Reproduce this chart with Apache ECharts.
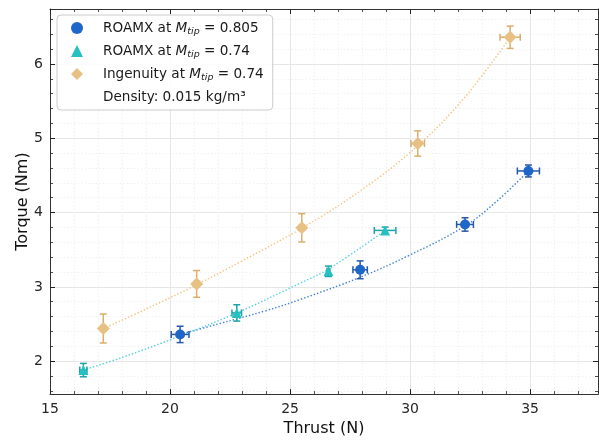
<!DOCTYPE html>
<html><head><meta charset="utf-8">
<script src="https://cdn.jsdelivr.net/npm/echarts@6/dist/echarts.min.js"></script>
<style>html,body{margin:0;padding:0;background:#fff}#c{width:599px;height:442px}</style>
</head><body><div id="c"></div>
<script>
// Tick values
const xMajorTicks = [15, 20, 25, 30, 35];
const xMinorTicks = [16,17,18,19,21,22,23,24,26,27,28,29,31,32,33,34,36,37];
const yMajorTicks = [2, 3, 4, 5, 6];
const yMinorTicks = [1.6,1.8,2.2,2.4,2.6,2.8,3.2,3.4,3.6,3.8,4.2,4.4,4.6,4.8,5.2,5.4,5.6,5.8,6.2,6.4,6.6];

// ROAMX at M_tip = 0.805
const r805Thrust    = [20.42, 27.92, 32.29, 34.93];
const r805Torque    = [2.36, 3.23, 3.84, 4.56];
const r805ThrustErr = [0.37, 0.30, 0.35, 0.46];
const r805TorqueErr = [0.11, 0.12, 0.09, 0.08];
const r805FitX = [20.42, 22, 24, 25.42, 27.92, 30, 32.29, 33.6, 34.93];
const r805FitY = [2.36, 2.50, 2.68, 2.83, 3.13, 3.43, 3.82, 4.15, 4.56];

// ROAMX at M_tip = 0.74
const r74Thrust    = [16.39, 22.78, 26.6, 28.96];
const r74Torque    = [1.88, 2.65, 3.21, 3.76];
const r74ThrustErr = [0.15, 0.2, 0.06, 0.45];
const r74TorqueErr = [0.09, 0.11, 0.07, 0.045];
const r74FitX = [16.39, 18, 20.42, 22.78, 25.42, 26.6, 28.96];
const r74FitY = [1.88, 2.05, 2.34, 2.65, 3.05, 3.24, 3.76];

// Ingenuity at M_tip = 0.74
const ingThrust    = [17.22, 21.11, 25.49, 30.32, 34.17];
const ingTorque    = [2.44, 3.04, 3.795, 4.93, 6.36];
const ingThrustErr = [0.1, 0.1, 0.1, 0.28, 0.42];
const ingTorqueErr = [0.195, 0.18, 0.19, 0.17, 0.15];
const ingFitX = [17.22, 19, 21.11, 23, 25.49, 28, 30.32, 32.3, 34.17];
const ingFitY = [2.44, 2.70, 3.03, 3.35, 3.79, 4.31, 4.90, 5.56, 6.36];

const legendLabels = {
  r805: '{f|ROAMX at }{i|M}{s|tip}{n| = 0.805}',
  r74: '{f|ROAMX at }{i|M}{s|tip}{n| = 0.74}',
  ing: '{f|Ingenuity at }{i|M}{s|tip}{n| = 0.74}',
  dens: '{f|Density: 0.015 kg/m³}'
};

const FONT = 'DejaVu Sans';
const XMIN = 15, XMAX = 37.83, YMIN = 1.557, YMAX = 6.74;

function zip(a, b) { return a.map((v, i) => [v, b[i]]); }
function zip4(a, b, c, d) { return a.map((v, i) => [v, b[i], c[i], d[i]]); }

function errRender(color) {
  return function (params, api) {
    const x = api.value(0), y = api.value(1), xe = api.value(2), ye = api.value(3);
    const l = api.coord([x - xe, y]), r = api.coord([x + xe, y]);
    const t = api.coord([x, y + ye]), b = api.coord([x, y - ye]);
    const cap = 3.5;
    const st = { stroke: color, lineWidth: 1.5, fill: null };
    return { type: 'group', children: [
      { type: 'line', shape: { x1: l[0], y1: l[1], x2: r[0], y2: r[1] }, style: st },
      { type: 'line', shape: { x1: l[0], y1: l[1] - cap, x2: l[0], y2: l[1] + cap }, style: st },
      { type: 'line', shape: { x1: r[0], y1: r[1] - cap, x2: r[0], y2: r[1] + cap }, style: st },
      { type: 'line', shape: { x1: t[0], y1: t[1], x2: b[0], y2: b[1] }, style: st },
      { type: 'line', shape: { x1: t[0] - cap, y1: t[1], x2: t[0] + cap, y2: t[1] }, style: st },
      { type: 'line', shape: { x1: b[0] - cap, y1: b[1], x2: b[0] + cap, y2: b[1] }, style: st }
    ]};
  };
}

const tickColor = '#222';
function mkX(pos, vals, major, withLine) {
  return {
    type: 'value', position: pos, min: XMIN, max: XMAX, gridIndex: 0,
    axisLine: { show: withLine, lineStyle: { color: '#333', width: 1 } },
    axisTick: { show: true, inside: true, length: major ? 5 : 3, customValues: vals, lineStyle: { color: tickColor, width: major ? 1 : 0.8 } },
    axisLabel: { show: pos === 'bottom' && major, customValues: vals, margin: 8, color: '#262626', fontFamily: FONT, fontSize: 14 },
    splitLine: { show: pos === 'bottom', lineStyle: major ? { color: '#e6e6e6', width: 1, type: 'solid' } : { color: '#eeeeee', width: 0.8, type: [1.5, 2] } },
    name: (pos === 'bottom' && major) ? 'Thrust (N)' : '',
    nameLocation: 'middle', nameGap: 25,
    nameTextStyle: { fontFamily: FONT, fontSize: 16, color: '#111' }
  };
}
function mkY(pos, vals, major, withLine) {
  return {
    type: 'value', position: pos, min: YMIN, max: YMAX, gridIndex: 0,
    axisLine: { show: withLine, lineStyle: { color: '#333', width: 1 } },
    axisTick: { show: true, inside: true, length: major ? 5 : 3, customValues: vals, lineStyle: { color: tickColor, width: major ? 1 : 0.8 } },
    axisLabel: { show: pos === 'left' && major, customValues: vals, margin: 7, color: '#262626', fontFamily: FONT, fontSize: 14 },
    splitLine: { show: pos === 'left', lineStyle: major ? { color: '#e6e6e6', width: 1, type: 'solid' } : { color: '#eeeeee', width: 0.8, type: [1.5, 2] } },
    name: (pos === 'left' && major) ? 'Torque (Nm)' : '',
    nameLocation: 'middle', nameGap: 19.5, nameMoveOverlap: false,
    nameTextStyle: { fontFamily: FONT, fontSize: 16, color: '#111' }
  };
}

const C805 = '#1f66c9', C805b = '#2558a8', C805l = '#3f7fd6';
const C74 = '#27c0c2', C74b = '#1ba3a5', C74l = '#52d2dc';
const CING = '#e8c083', CINGb = '#dbae6c', CINGl = '#f5c27c';

const chart = echarts.init(document.getElementById('c'), null, { renderer: 'canvas' });
chart.setOption({
  animation: false,
  backgroundColor: '#fff',
  grid: { left: 50, right: 1, top: 9, bottom: 47, containLabel: false },
  xAxis: [
    mkX('bottom', xMajorTicks, true, true),
    mkX('bottom', xMinorTicks, false, false),
    mkX('top', xMajorTicks, true, true),
    mkX('top', xMinorTicks, false, false)
  ],
  yAxis: [
    mkY('left', yMajorTicks, true, true),
    mkY('left', yMinorTicks, false, false),
    mkY('right', yMajorTicks, true, true),
    mkY('right', yMinorTicks, false, false)
  ],
  legend: {
    left: 57, top: 15, orient: 'vertical',
    padding: [6, 9, 6, 14], itemGap: 7, itemWidth: 12, itemHeight: 12,
    backgroundColor: 'rgba(255,255,255,0.85)', borderColor: '#cccccc', borderWidth: 1, borderRadius: 4,
    selectedMode: false,
    data: [
      { name: 'r805', icon: 'circle', itemStyle: { borderWidth: 0 } },
      { name: 'r74', icon: 'triangle' },
      { name: 'ing', icon: 'diamond' },
      { name: 'dens', icon: 'none' }
    ],
    formatter: n => legendLabels[n],
    textStyle: {
      fontFamily: FONT, fontSize: 13.6, color: '#1a1a1a',
      rich: {
        f: { fontFamily: FONT, fontSize: 13.6, lineHeight: 18, color: '#1a1a1a', padding: [0, 0, 0, 15] },
        n: { fontFamily: FONT, fontSize: 13.6, lineHeight: 18, color: '#1a1a1a' },
        i: { fontFamily: FONT, fontSize: 13.6, lineHeight: 18, fontStyle: 'italic', color: '#1a1a1a' },
        s: { fontFamily: FONT, fontSize: 9.5, lineHeight: 10, fontStyle: 'italic', verticalAlign: 'bottom', color: '#1a1a1a' }
      }
    }
  },
  series: [
    { name: 'fit805', type: 'line', data: zip(r805FitX, r805FitY), smooth: 0.4, showSymbol: false, symbol: 'none', z: 1,
      lineStyle: { color: C805l, width: 1.4, type: [1.4, 2] } },
    { name: 'fit74', type: 'line', data: zip(r74FitX, r74FitY), smooth: 0.4, showSymbol: false, symbol: 'none', z: 1,
      lineStyle: { color: C74l, width: 1.4, type: [1.4, 2] } },
    { name: 'fitIng', type: 'line', data: zip(ingFitX, ingFitY), smooth: 0.4, showSymbol: false, symbol: 'none', z: 1,
      lineStyle: { color: CINGl, width: 1.4, type: [1.4, 2] } },
    { name: 'err805', type: 'custom', data: zip4(r805Thrust, r805Torque, r805ThrustErr, r805TorqueErr), renderItem: errRender(C805b), encode: { x: 0, y: 1 }, z: 2 },
    { name: 'err74', type: 'custom', data: zip4(r74Thrust, r74Torque, r74ThrustErr, r74TorqueErr), renderItem: errRender(C74b), encode: { x: 0, y: 1 }, z: 2 },
    { name: 'errIng', type: 'custom', data: zip4(ingThrust, ingTorque, ingThrustErr, ingTorqueErr), renderItem: errRender(CINGb), encode: { x: 0, y: 1 }, z: 2 },
    { name: 'r805', type: 'scatter', data: zip(r805Thrust, r805Torque), symbol: 'circle', symbolSize: 10, z: 3, itemStyle: { color: C805, opacity: 1 } },
    { name: 'r74', type: 'scatter', data: zip(r74Thrust, r74Torque), symbol: 'triangle', symbolSize: 10, z: 3, itemStyle: { color: C74, opacity: 1 } },
    { name: 'ing', type: 'scatter', data: zip(ingThrust, ingTorque), symbol: 'diamond', symbolSize: 13, z: 3, itemStyle: { color: CING, opacity: 1 } },
    { name: 'dens', type: 'scatter', data: [], itemStyle: { color: 'rgba(0,0,0,0)' } }
  ]
});
</script>
</body></html>
